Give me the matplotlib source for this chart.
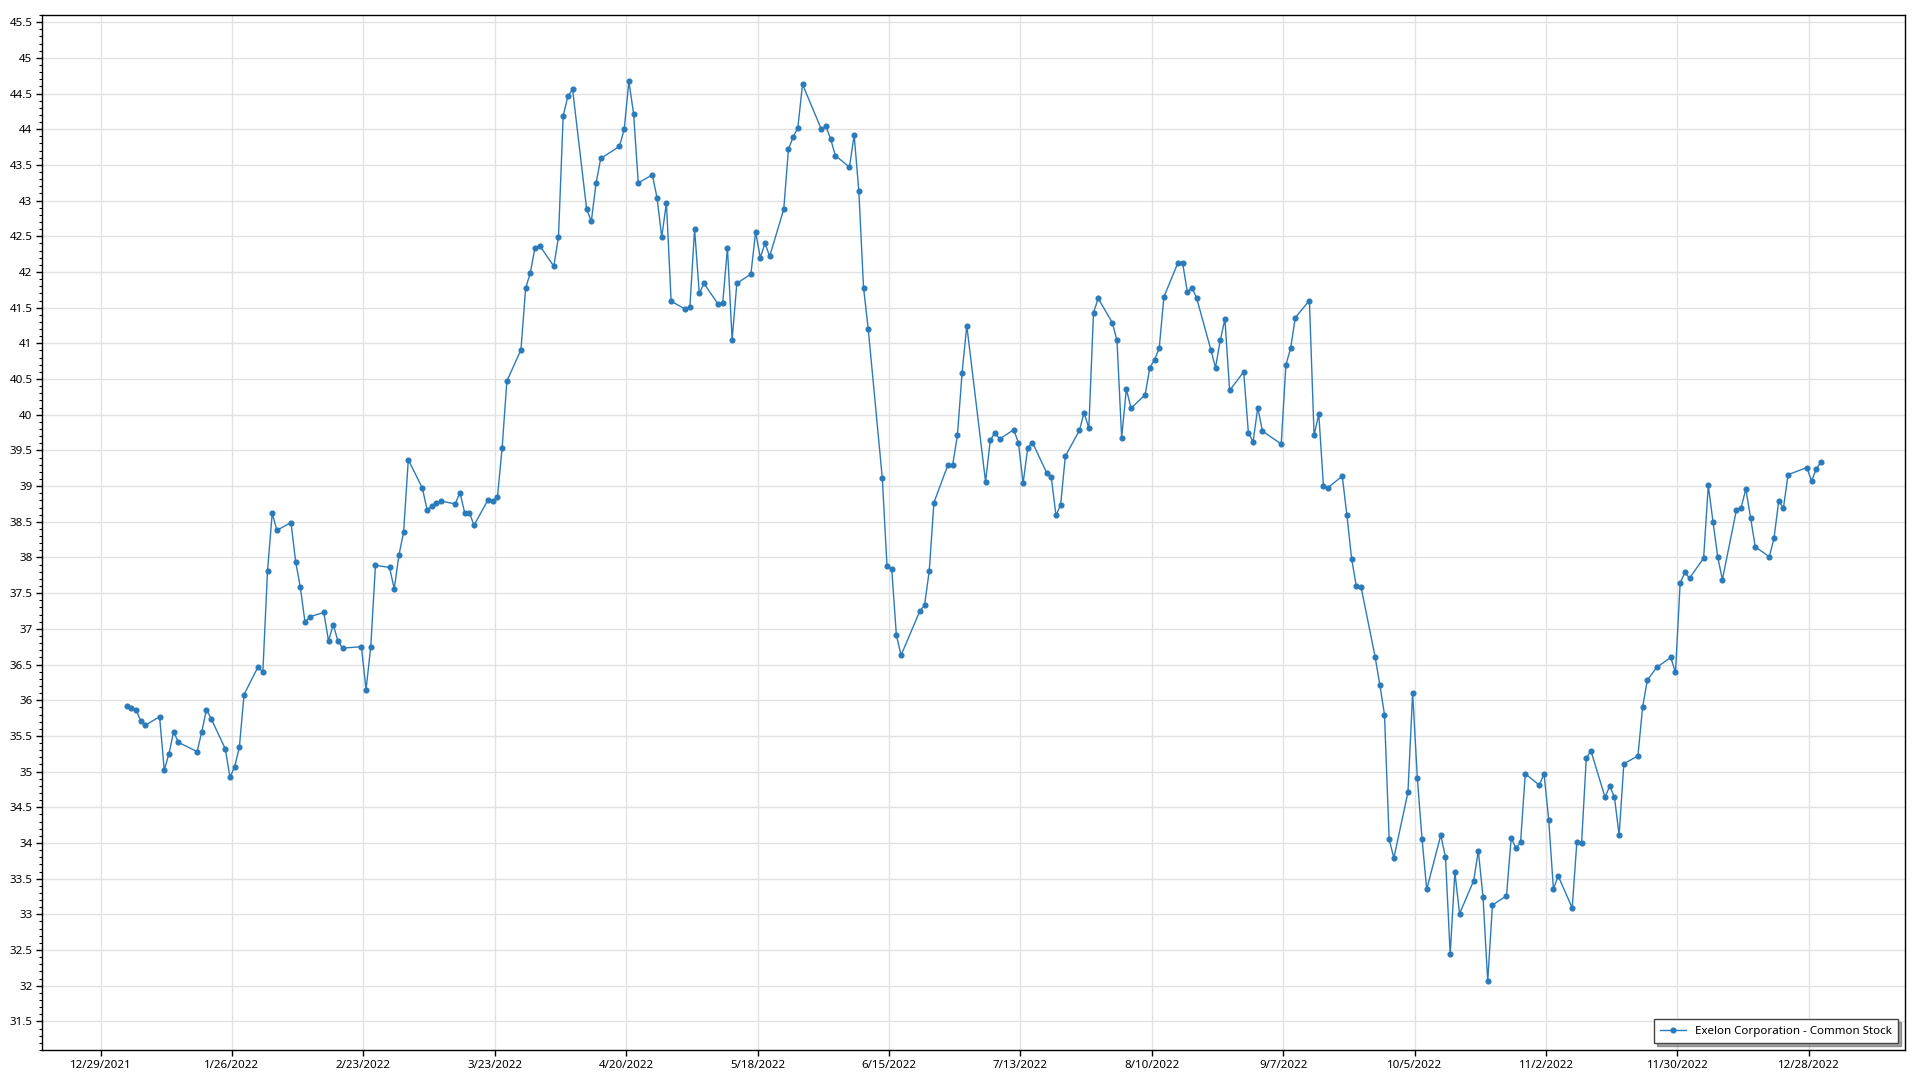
import matplotlib
matplotlib.use("Agg")
import matplotlib.pyplot as plt
from matplotlib.ticker import MultipleLocator, FuncFormatter
import pandas as pd

# NYSE holidays 2022 (no trading)
HOLIDAYS = ["2022-01-17", "2022-02-21", "2022-04-15", "2022-05-30", "2022-06-20",
            "2022-07-04", "2022-09-05", "2022-11-24", "2022-12-26"]

# daily close, one list per month
jan = [35.92, 35.89, 35.86, 35.71, 35.65, 35.77, 35.02, 35.25, 35.56, 35.41,
       35.28, 35.56, 35.87, 35.74, 35.32, 34.92, 35.07, 35.34, 36.08, 36.47]
feb = [36.39, 37.81, 38.62, 38.38, 38.49, 37.94, 37.58, 37.09, 37.17, 37.23,
       36.83, 37.06, 36.83, 36.73, 36.75, 36.15, 36.75, 37.89, 37.86]
mar = [37.56, 38.03, 38.36, 39.37, 38.97, 38.67, 38.72, 38.76, 38.79, 38.75,
       38.91, 38.63, 38.63, 38.45, 38.81, 38.79, 38.85, 39.54, 40.47, 40.91,
       41.77, 41.99, 42.34]
apr = [42.37, 42.08, 42.49, 44.19, 44.46, 44.56, 42.88, 42.71, 43.24, 43.59,
       43.76, 44.00, 44.67, 44.22, 43.25, 43.36, 43.04, 42.49, 42.97, 41.59]
may = [41.48, 41.51, 42.60, 41.70, 41.84, 41.55, 41.57, 42.34, 41.05, 41.84,
       41.97, 42.56, 42.20, 42.40, 42.22, 42.88, 43.72, 43.89, 44.02, 44.63, 44.00]
jun = [44.04, 43.86, 43.63, 43.47, 43.92, 43.13, 41.78, 41.20, 39.11, 37.88,
       37.84, 36.91, 36.63, 37.25, 37.33, 37.81, 38.77, 39.30, 39.30, 39.71, 40.59]
jul = [41.25, 39.06, 39.64, 39.75, 39.66, 39.79, 39.61, 39.04, 39.54, 39.61,
       39.19, 39.13, 38.59, 38.74, 39.42, 39.78, 40.03, 39.81, 41.43, 41.63]
aug = [41.29, 41.04, 39.68, 40.36, 40.09, 40.28, 40.66, 40.77, 40.93, 41.65,
       42.13, 42.12, 41.72, 41.78, 41.63, 40.91, 40.66, 41.04, 41.34, 40.34,
       40.60, 39.75, 39.62]
sep = [40.10, 39.77, 39.59, 40.70, 40.93, 41.36, 41.60, 39.71, 40.01, 39.00,
       38.98, 39.14, 38.59, 37.98, 37.60, 37.59, 36.61, 36.22, 35.80, 34.05, 33.79]
oct = [34.71, 36.10, 34.91, 34.06, 33.35, 34.11, 33.80, 32.44, 33.59, 33.01,
       33.47, 33.89, 33.24, 32.06, 33.13, 33.26, 34.07, 33.93, 34.01, 34.97, 34.81]
nov = [34.97, 34.32, 33.35, 33.54, 33.09, 34.02, 34.00, 35.19, 35.29, 34.64,
       34.80, 34.64, 34.11, 35.11, 35.22, 35.90, 36.28, 36.46, 36.60, 36.39, 37.64]
dec = [37.79, 37.71, 37.99, 39.01, 38.50, 38.01, 37.69, 38.67, 38.70, 38.96,
       38.56, 38.15, 38.01, 38.27, 38.79, 38.69, 39.16, 39.26, 39.07, 39.24, 39.34]

prices = jan + feb + mar + apr + may + jun + jul + aug + sep + oct + nov + dec
dates = pd.bdate_range("2022-01-03", "2022-12-30", freq="C", holidays=HOLIDAYS)
# points sit a little after midnight of their date in the original
dates = dates + pd.Timedelta(hours=14)

plt.rcParams["font.family"] = ["Noto Sans", "DejaVu Sans"]

fig = plt.figure(figsize=(19.2, 10.8), dpi=100)
ax = fig.add_axes([0.022, 0.0278, 0.9702, 0.9583])

ax.plot(dates, prices, color="#2b7bba", lw=1.0, marker="o", ms=3.4,
        label="Exelon Corporation - Common Stock")

ticks = pd.date_range("2021-12-29", periods=14, freq="28D")
ax.set_xticks(ticks)
ax.set_xticklabels([f"{d.month}/{d.day}/{d.year}" for d in ticks])
ax.set_xlim(pd.Timestamp("2021-12-16 14:00"), pd.Timestamp("2023-01-17 12:00"))

ax.set_ylim(31.1, 45.6)
ax.yaxis.set_major_locator(MultipleLocator(0.5))
ax.yaxis.set_minor_locator(MultipleLocator(0.1))
ax.yaxis.set_major_formatter(FuncFormatter(lambda v, _: f"{v:g}"))

ax.grid(True, which="major", color="#e2e2e2", lw=1)
ax.set_axisbelow(True)
ax.tick_params(axis="both", which="major", length=4, width=1, labelsize=8.3, pad=3)
ax.tick_params(axis="y", which="minor", length=2, width=0.8)
for s in ax.spines.values():
    s.set_color("black")
    s.set_linewidth(1)

leg = ax.legend(loc="lower right", fontsize=8.3, fancybox=False, shadow=True,
                edgecolor="#444444", framealpha=1, borderaxespad=0.6,
                handlelength=2.2, borderpad=0.55)
leg.get_frame().set_linewidth(1)

plt.savefig("out.png", dpi=100)
plt.close()
